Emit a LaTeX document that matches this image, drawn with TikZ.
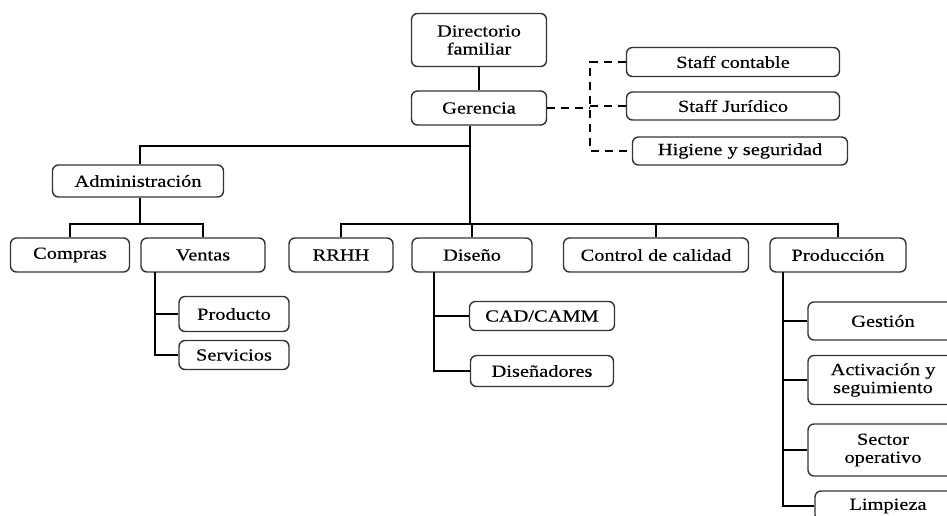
\documentclass[tikz,border=0pt]{standalone}
\usepackage{fontspec}
\setmainfont{Liberation Serif}[FakeStretch=1.2,FakeBold=0.3]

\begin{document}
\begin{tikzpicture}[x=1pt,y=-1pt,
  caja/.style={draw=black!80,line width=1.4pt,rounded corners=6pt,fill=white,
    align=center,inner sep=0pt,font=\fontsize{17}{18}\selectfont},
  rama/.style={line width=2.8pt,black},
  staff/.style={line width=2.2pt,black,dash pattern=on 8pt off 6pt}]
\useasboundingbox (0,0) rectangle (947,515);
\node[caja,minimum width=135,minimum height=53] (dir) at (479,40) {Directorio\\familiar};
\node[caja,minimum width=135,minimum height=34] (ger) at (479,108) {Gerencia};
\node[caja,minimum width=213,minimum height=29] (sc) at (733,62) {Staff contable};
\node[caja,minimum width=213,minimum height=28] (sj) at (733,106) {Staff Jurídico};
\node[caja,minimum width=215,minimum height=28] (hs) at (740,151) {Higiene y seguridad};
\node[caja,minimum width=171,minimum height=32] (adm) at (138,181) {Administración};
\node[caja,minimum width=119,minimum height=34] (comp) at (70,255) {Compras};
\node[caja,minimum width=124,minimum height=34] (ven) at (203,255) {Ventas};
\node[caja,minimum width=104,minimum height=34] (rh) at (341,255) {RRHH};
\node[caja,minimum width=120,minimum height=34] (dis) at (472,255) {Diseño};
\node[caja,minimum width=185,minimum height=34] (cc) at (656,255) {Control de calidad};
\node[caja,minimum width=136,minimum height=34] (prod) at (838,255) {Producción};
\node[caja,minimum width=110,minimum height=35] (prd) at (234,314) {Producto};
\node[caja,minimum width=110,minimum height=29] (serv) at (234,355) {Servicios};
\node[caja,minimum width=145,minimum height=29] (cad) at (542,316) {CAD/CAMM};
\node[caja,minimum width=143,minimum height=31] (dsn) at (542,371) {Diseñadores};
\node[caja,minimum width=150,minimum height=38] (ges) at (883,321) {Gestión};
\node[caja,minimum width=150,minimum height=49] (act) at (883,380) {Activación y\\seguimiento};
\node[caja,minimum width=150,minimum height=52] (sec) at (883,450) {Sector\\operativo};
\node[caja,minimum width=146,minimum height=30] (lim) at (888,506) {Limpieza};
\coordinate (t) at (470,224);
\coordinate (ja) at (470,146);
\coordinate (ta) at (140,224);
\coordinate (vv) at (155,272);
\coordinate (dv) at (434,272);
\coordinate (pv) at (783,272);
\coordinate (sx) at (590,108);
\draw[rama] (dir) -- (ger);
\draw[rama] (ger.south -| t) -- (t);
\draw[rama] (ja) -| (adm.north -| ta);
\draw[rama] (rh.north) |- (t) -| (prod.north);
\draw[rama] (dis.north) -- (dis.north |- t);
\draw[rama] (cc.north) -- (cc.north |- t);
\draw[rama] (adm.south -| ta) -- (ta);
\draw[rama] (comp.north) |- (ta) -| (ven.north);
\draw[rama] (vv) |- (serv.west);
\draw[rama] (prd.west) -- (prd.west -| vv);
\draw[rama] (dv) |- (dsn.west);
\draw[rama] (cad.west) -- (cad.west -| dv);
\draw[rama] (pv) |- (lim.west);
\draw[rama] (ges.west) -- (ges.west -| pv);
\draw[rama] (act.west) -- (act.west -| pv);
\draw[rama] (sec.west) -- (sec.west -| pv);
\draw[staff] (ger.east) -- (sx);
\draw[staff] (sc.west) -| (sx) |- (hs.west);
\draw[staff] (sj.west) -- (sj.west -| sx);
\end{tikzpicture}
\end{document}
